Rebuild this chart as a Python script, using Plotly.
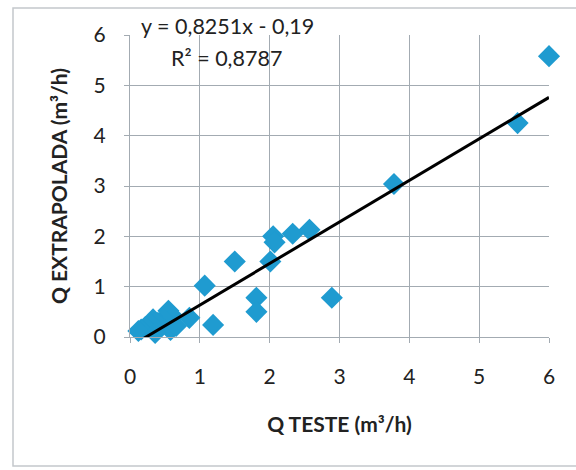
import plotly.graph_objects as go

# Measured vs extrapolated flow (m³/h)
q_teste = [6.00, 5.55, 3.78, 2.57, 2.33, 2.05, 2.07, 2.01, 1.50, 1.07,
           2.89, 1.81, 1.81, 1.19, 0.85, 0.55, 0.58, 0.62, 0.66, 0.48,
           0.40, 0.33, 0.30, 0.22, 0.16, 0.12, 0.36]
q_extrapolada = [5.58, 4.25, 3.04, 2.13, 2.05, 2.00, 1.88, 1.50, 1.50, 1.02,
                 0.78, 0.78, 0.50, 0.24, 0.38, 0.52, 0.14, 0.40, 0.22, 0.35,
                 0.28, 0.35, 0.25, 0.20, 0.15, 0.12, 0.08]

# Linear trend reported on the chart
slope = 0.8251
intercept = -0.19
r2 = 0.8787

x_ticks = [0, 1, 2, 3, 4, 5, 6]
y_ticks = [0, 1, 2, 3, 4, 5, 6]

FONT = "Lato"
GRID = "#A3ABB2"
TXT = "#222222"

W, H = 576, 470
L, R, T, B = 130, 27, 35, 133
pw, ph = W - L - R, H - T - B


def px_x(v):
    return (v - L) / pw


def px_y(v):
    return 1 - (v - T) / ph


x_min, x_max = min(q_teste), max(q_teste)
trend_x = [x_min, x_max]
trend_y = [slope * v + intercept for v in trend_x]

fig = go.Figure()
fig.add_trace(go.Scatter(
    x=q_teste, y=q_extrapolada, mode="markers",
    marker=dict(symbol="diamond", size=17, color="#1F9BD0",
                line=dict(width=0)),
    cliponaxis=False, showlegend=False))
fig.add_trace(go.Scatter(
    x=trend_x, y=trend_y, mode="lines",
    line=dict(color="#000000", width=3),
    showlegend=False))

fmt = lambda v, d: f"{abs(v):.{d}f}".replace(".", ",")
eq_text = f"y = {fmt(slope, 4)}x - {fmt(intercept, 2)}"
r2_text = f"R² = {fmt(r2, 4)}"

fig.add_annotation(text=eq_text, x=px_x(227), y=px_y(26), xref="paper", yref="paper",
                   xanchor="center", yanchor="middle", showarrow=False,
                   font=dict(family=FONT, size=21.5, color=TXT))
fig.add_annotation(text=r2_text, x=px_x(226), y=px_y(58), xref="paper", yref="paper",
                   xanchor="center", yanchor="middle", showarrow=False,
                   font=dict(family=FONT, size=21.5, color=TXT))

fig.update_layout(
    width=W, height=H,
    margin=dict(l=L, r=R, t=T, b=B),
    paper_bgcolor="white", plot_bgcolor="white",
    font=dict(family=FONT, color=TXT),
    shapes=[dict(type="rect", xref="paper", yref="paper",
                 x0=px_x(13), x1=px_x(600),
                 y0=px_y(466), y1=px_y(8),
                 line=dict(color="#C4C8CC", width=1.5), layer="below")],
)
fig.update_xaxes(
    range=[0, 6], tickvals=x_ticks, ticktext=[str(v) for v in x_ticks],
    showgrid=True, gridcolor=GRID, gridwidth=1.2,
    showline=True, linecolor=GRID, linewidth=1.2, mirror=False,
    ticks="outside", ticklen=5, tickcolor=GRID, zeroline=False,
    ticklabelstandoff=16,
    tickfont=dict(size=21, family=FONT, color=TXT),
    title=dict(text="<b>Q TESTE (m³/h)</b>",
               font=dict(size=21, family=FONT, color=TXT), standoff=30))
fig.update_yaxes(
    range=[0, 6], tickvals=y_ticks, ticktext=[str(v) for v in y_ticks],
    showgrid=True, gridcolor=GRID, gridwidth=1.2,
    showline=True, linecolor=GRID, linewidth=1.2, mirror=False,
    ticks="outside", ticklen=5, tickcolor=GRID, zeroline=False,
    ticklabelstandoff=14,
    tickfont=dict(size=21, family=FONT, color=TXT),
    title=dict(text="<b>Q EXTRAPOLADA (m³/h)</b>",
               font=dict(size=21, family=FONT, color=TXT), standoff=20))

fig.write_html("out.html")
